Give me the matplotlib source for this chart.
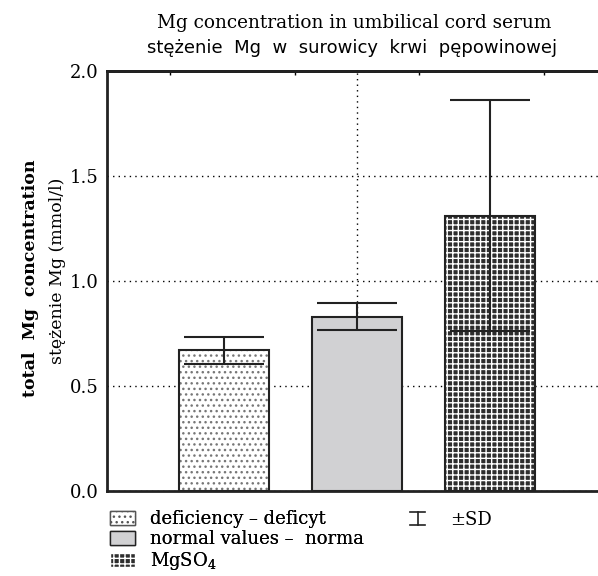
import numpy as np
import matplotlib
matplotlib.use("Agg")
import matplotlib.pyplot as plt
from matplotlib.patches import Patch
from matplotlib.lines import Line2D
from matplotlib.legend_handler import HandlerBase

# values
groups = ["deficiency \u2013 deficyt", "normal values \u2013  norma", "MgSO$_4$"]
means = [0.67, 0.83, 1.31]
sds = [0.065, 0.065, 0.55]
yticks = [0.0, 0.5, 1.0, 1.5, 2.0]
top_ticks = [-0.40, 0.535, 1.465, 2.40]

plt.rcParams["font.family"] = "DejaVu Serif"
plt.rcParams["mathtext.fontset"] = "dejavuserif"
plt.rcParams["hatch.linewidth"] = 1.0

dark = "#222222"


class SDHandler(HandlerBase):
    # draws the "I" shaped error bar symbol for the legend
    def create_artists(self, legend, orig_handle, xdescent, ydescent,
                       width, height, fontsize, trans):
        x0, x1 = -xdescent, -xdescent + width
        xm = (x0 + x1) / 2
        y0, y1 = -ydescent, -ydescent + height
        kw = dict(color=dark, linewidth=1.2, transform=trans)
        return [Line2D([x0, x1], [y0, y0], **kw),
                Line2D([x0, x1], [y1, y1], **kw),
                Line2D([xm, xm], [y0, y1], **kw)]


fig = plt.figure(figsize=(5.98, 5.76), dpi=100)
ax = fig.add_axes([107 / 598, 85 / 576, 500 / 598, 420 / 576])

x = np.arange(len(means))
w = 0.675
faces = ["white", "#d1d1d3", "#2e2e2e"]
hatches = ["...", None, "+++"]
hcols = ["#777777", dark, "white"]

for i in range(len(means)):
    ax.bar(x[i], means[i], w, color=faces[i], hatch=hatches[i],
           edgecolor=hcols[i], linewidth=0, zorder=2)
    ax.bar(x[i], means[i], w, fill=False, edgecolor=dark, linewidth=1.5, zorder=3)

ax.errorbar(x, means, yerr=sds, fmt="none", ecolor=dark, elinewidth=1.5,
            capsize=29, capthick=1.5, zorder=4)

ax.set_xlim(-0.875, 2.875)
ax.set_ylim(0, 2.0)
ax.set_yticks(yticks)
ax.set_yticklabels(["%.1f" % v for v in yticks], fontsize=13)
ax.set_xticks([1])
ax.set_xticklabels([])
ax.tick_params(axis="x", direction="in", length=3, width=1)
ax.tick_params(axis="y", length=0, pad=6)
ax.grid(True, linestyle=(0, (1, 3)), color="black", linewidth=1, zorder=0)
ax.set_axisbelow(True)
for s in ["left", "top", "bottom"]:
    ax.spines[s].set_linewidth(2)
    ax.spines[s].set_color(dark)
ax.spines["right"].set_visible(False)

sec = ax.secondary_xaxis("top")
sec.set_xticks(top_ticks)
sec.set_xticklabels([])
sec.tick_params(direction="in", length=3, width=1)
sec.spines["top"].set_linewidth(2)

fig.text(354 / 598, 1 - 23 / 576, "Mg concentration in umbilical cord serum",
         ha="center", va="center", fontsize=13.3)
fig.text(352 / 598, 1 - 48 / 576, "st\u0119\u017cenie  Mg  w  surowicy  krwi  p\u0119powinowej",
         ha="center", va="center", fontsize=13, family="DejaVu Sans")
fig.text(31 / 598, 1 - 278 / 576, "total  Mg  concentration", rotation=90,
         ha="center", va="center", fontsize=12.5, fontweight="bold")
fig.text(58 / 598, 1 - 271 / 576, "st\u0119\u017cenie Mg (mmol/l)", rotation=90,
         ha="center", va="center", fontsize=12.5)

handles = [Patch(facecolor="white", hatch="...", edgecolor="#555555", linewidth=1),
           Patch(facecolor=faces[1], edgecolor=dark, linewidth=1),
           Patch(facecolor=faces[2], hatch="+++", edgecolor="white", linewidth=1)]
leg1 = fig.legend(handles, groups, loc="upper left", bbox_to_anchor=(110 / 598, 1 - 510 / 576),
                  frameon=False, fontsize=13, handlelength=1.4, handleheight=0.85,
                  handletextpad=0.8, labelspacing=0.12, borderaxespad=0, borderpad=0)
sd_proxy = Line2D([], [])
fig.legend([sd_proxy], ["\u00b1SD"], handler_map={Line2D: SDHandler()},
           loc="upper left", bbox_to_anchor=(410 / 598, 1 - 511 / 576),
           frameon=False, fontsize=13, handlelength=0.85, handleheight=0.75,
           handletextpad=1.4, borderaxespad=0, borderpad=0)
fig.add_artist(leg1)

fig.savefig("out.png", dpi=100)
